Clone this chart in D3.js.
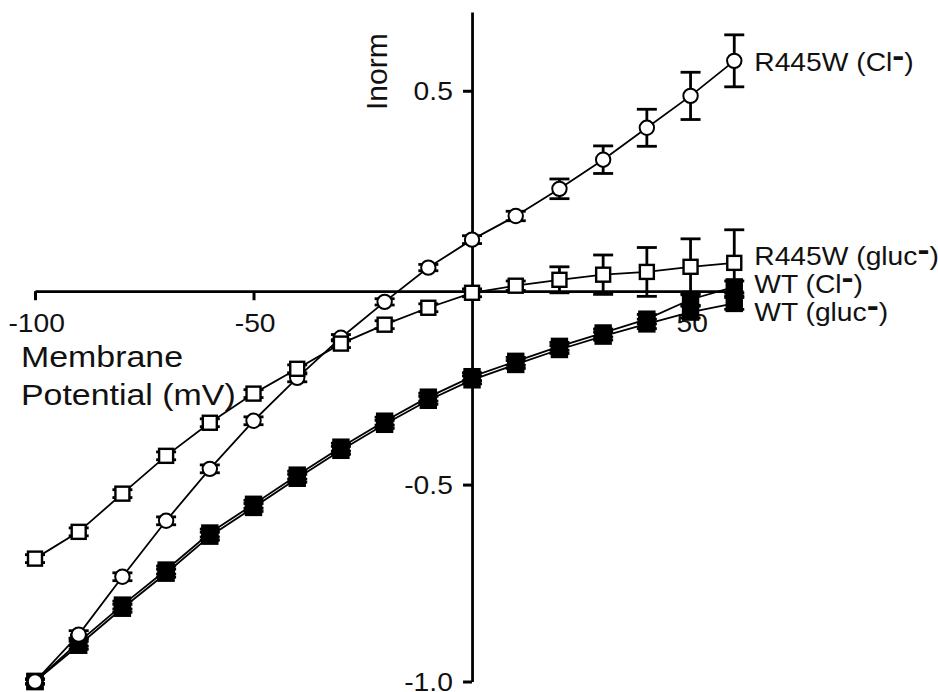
<!DOCTYPE html>
<html>
<head>
<meta charset="utf-8">
<script src="https://cdn.jsdelivr.net/npm/d3@7"></script>
<style>
  body { margin: 0; background: #fff; }
  svg text { font-family: "Liberation Sans", Arial, Helvetica, sans-serif; fill: #111; }
</style>
</head>
<body>
<div id="chart"></div>
<script>
// membrane potential (mV)
var voltages = [-100, -90, -80, -70, -60, -50, -40, -30, -20, -10, 0, 10, 20, 30, 40, 50, 60];

// normalized currents
var r445wCl      = [-1.0, -0.881, -0.734, -0.592, -0.460, -0.338, -0.229, -0.127, -0.036, 0.051, 0.122, 0.182, 0.251, 0.325, 0.406, 0.487, 0.576];
var r445wClErr   = [0.006, 0.01, 0.01, 0.01, 0.01, 0.01, 0.01, 0.008, 0.008, 0.008, 0.01, 0.012, 0.025, 0.035, 0.047, 0.06, 0.066];
var r445wGluc    = [-0.688, -0.620, -0.523, -0.427, -0.343, -0.269, -0.206, -0.142, -0.094, -0.051, -0.013, 0.005, 0.020, 0.033, 0.040, 0.053, 0.063];
var r445wGlucErr = [0.01, 0.01, 0.01, 0.01, 0.01, 0.01, 0.01, 0.01, 0.01, 0.01, 0.01, 0.012, 0.033, 0.05, 0.062, 0.071, 0.084];
var wtCl         = [-1.0, -0.900, -0.806, -0.717, -0.623, -0.550, -0.476, -0.405, -0.339, -0.278, -0.226, -0.187, -0.149, -0.115, -0.080, -0.030, 0.002];
var wtClErr      = [0.006, 0.01, 0.01, 0.01, 0.01, 0.01, 0.01, 0.01, 0.01, 0.01, 0.01, 0.01, 0.01, 0.01, 0.012, 0.015, 0.015];
var wtGluc       = [-1.0, -0.908, -0.814, -0.725, -0.631, -0.558, -0.484, -0.413, -0.347, -0.286, -0.234, -0.195, -0.157, -0.123, -0.092, -0.062, -0.040];
var wtGlucErr    = [0.006, 0.01, 0.01, 0.01, 0.01, 0.01, 0.01, 0.01, 0.01, 0.01, 0.01, 0.01, 0.01, 0.01, 0.012, 0.015, 0.015];

var xTickValues = [-100, -50, 50];
var xTickLabels = ["-100", "-50", "50"];
var yTickValues = [0.5, -0.5, -1.0];
var yTickLabels = ["0.5", "-0.5", "-1.0"];

var seriesNames = ["WT (gluc", "WT (Cl", "R445W (Cl", "R445W (gluc"];

var width = 938, height = 692;
var stretch = "scale(1.13,1)";

var svg = d3.select("#chart").append("svg")
    .attr("width", width)
    .attr("height", height);

var x = d3.scaleLinear().domain([-100, 62]).range([35, 743]);
var y = d3.scaleLinear().domain([-1, 0.7]).range([681.5, 12]);

// x axis sits a hair under zero in the original
var xAxisAt = y(-0.009);

var xAxis = svg.append("g")
    .attr("transform", "translate(0," + xAxisAt + ")")
    .call(d3.axisBottom(x).tickValues(xTickValues).tickSize(9).tickSizeOuter(0)
      .tickFormat(function(d, i) { return xTickLabels[i]; }));

var yAxis = svg.append("g")
    .attr("transform", "translate(" + x(0) + ",0)")
    .call(d3.axisLeft(y).tickValues(yTickValues).tickSize(9).tickSizeOuter(0)
      .tickFormat(function(d, i) { return yTickLabels[i]; }));

[xAxis, yAxis].forEach(function(g) {
  g.attr("font-size", null).attr("font-family", null);
  g.select(".domain").attr("stroke", "#000").attr("stroke-width", 2.8);
  g.selectAll(".tick line").attr("stroke", "#000").attr("stroke-width", 3);
  g.selectAll(".tick text").style("font-size", "25px").attr("fill", "#111")
    .attr("transform", stretch);
});
xAxis.selectAll(".tick text").attr("y", 41).attr("dy", 0).attr("x", 1);
yAxis.selectAll(".tick text").attr("x", -17).attr("dy", "0.34em");

// axis titles
svg.append("text")
    .attr("transform", "translate(387,110) rotate(-90)")
    .style("font-size", "30px")
    .text("Inorm");

svg.append("text")
    .attr("transform", "translate(21,367) " + stretch)
    .style("font-size", "30px")
    .text("Membrane");

svg.append("text")
    .attr("transform", "translate(21,405) " + stretch)
    .style("font-size", "30px")
    .text("Potential (mV)");

// series, drawn back to front
var series = [
  { name: seriesNames[0], values: wtGluc, err: wtGlucErr, shape: "square", fill: "#000", size: 15, labelDy: 18 },
  { name: seriesNames[1], values: wtCl, err: wtClErr, shape: "square", fill: "#000", size: 15, labelDy: 6 },
  { name: seriesNames[2], values: r445wCl, err: r445wClErr, shape: "circle", fill: "#fff", size: 15, labelDy: 10 },
  { name: seriesNames[3], values: r445wGluc, err: r445wGlucErr, shape: "square", fill: "#fff", size: 14, labelDy: 2 }
];

var line = d3.line()
    .x(function(d) { return x(d.v); })
    .y(function(d) { return y(d.i); });

series.forEach(function(s) {
  var pts = voltages.map(function(v, k) { return { v: v, i: s.values[k], e: s.err[k] }; });
  var g = svg.append("g");

  g.append("path")
    .datum(pts)
    .attr("d", line)
    .attr("fill", "none")
    .attr("stroke", "#000")
    .attr("stroke-width", 1.8);

  var bars = g.selectAll(".err")
    .data(pts)
    .enter()
    .append("g")
    .attr("stroke", "#000")
    .attr("stroke-width", 2.8);

  bars.append("line")
    .attr("x1", function(d) { return x(d.v); })
    .attr("x2", function(d) { return x(d.v); })
    .attr("y1", function(d) { return y(d.i + d.e); })
    .attr("y2", function(d) { return y(d.i - d.e); });
  bars.append("line")
    .attr("x1", function(d) { return x(d.v) - 10; })
    .attr("x2", function(d) { return x(d.v) + 10; })
    .attr("y1", function(d) { return y(d.i + d.e); })
    .attr("y2", function(d) { return y(d.i + d.e); });
  bars.append("line")
    .attr("x1", function(d) { return x(d.v) - 10; })
    .attr("x2", function(d) { return x(d.v) + 10; })
    .attr("y1", function(d) { return y(d.i - d.e); })
    .attr("y2", function(d) { return y(d.i - d.e); });

  if (s.shape === "circle") {
    g.selectAll("circle")
      .data(pts)
      .enter()
      .append("circle")
      .attr("cx", function(d) { return x(d.v); })
      .attr("cy", function(d) { return y(d.i); })
      .attr("r", s.size / 2 - 0.3)
      .attr("fill", s.fill)
      .attr("stroke", "#000")
      .attr("stroke-width", 2);
  } else {
    g.selectAll("rect")
      .data(pts)
      .enter()
      .append("rect")
      .attr("x", function(d) { return x(d.v) - s.size / 2; })
      .attr("y", function(d) { return y(d.i) - s.size / 2; })
      .attr("width", s.size)
      .attr("height", s.size)
      .attr("fill", s.fill)
      .attr("stroke", "#000")
      .attr("stroke-width", 2.4);
  }

  // end label with a heavy superscript minus
  var last = pts[pts.length - 1];
  var t = svg.append("text")
    .attr("transform", "translate(" + (x(last.v) + 20) + "," + (y(last.i) + s.labelDy) + ") " + stretch)
    .style("font-size", "25px");
  t.append("tspan").text(s.name);
  t.append("tspan").attr("dy", -5).style("font-weight", "bold").style("font-size", "32px").text("-");
  t.append("tspan").attr("dy", 5).text(")");
});
</script>
</body>
</html>
